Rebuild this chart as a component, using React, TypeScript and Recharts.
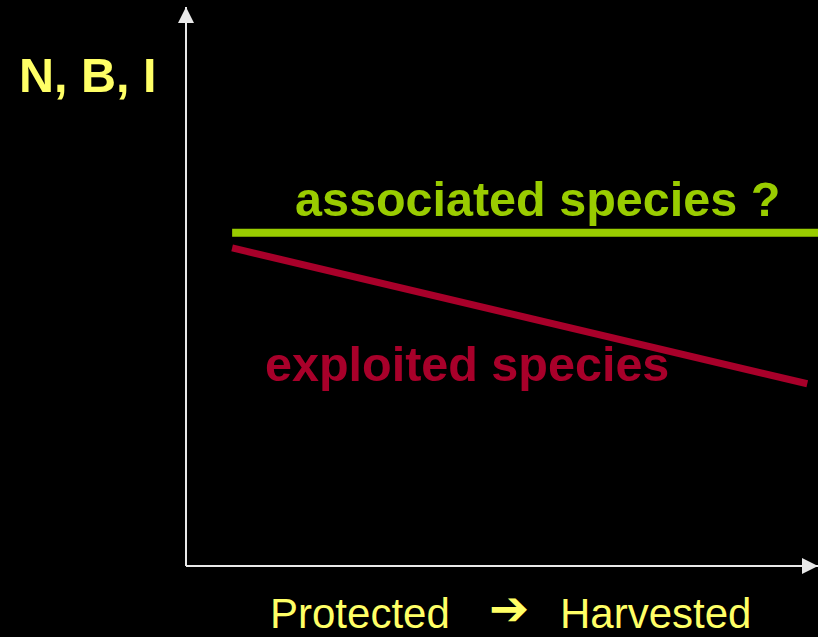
import React from 'react';
import { LineChart, Line, XAxis, YAxis } from 'recharts';

// x: 0 = fully protected, 100 = fully harvested ; y: relative N, B, I
const associatedSpecies = [
  { x: 7.3, y: 59.6 },
  { x: 100, y: 59.6 },
];

const exploitedSpecies = [
  { x: 7.3, y: 56.9 },
  { x: 98.3, y: 32.6 },
];

const xLabels = ['Protected', 'Harvested'];
const yLabel = 'N, B, I';

const GREEN = '#99cc00';
const RED = '#a8002a';
const YELLOW = '#ffff66';
const AXIS = '#e8e8e8';

const App: React.FC = () => {
  return (
    <div style={{ position: 'fixed', left: 0, top: 0, width: 818, height: 637, background: '#000', overflow: 'hidden' }}>
      {/* arrow heads for the axes */}
      <svg width={0} height={0} style={{ position: 'absolute' }}>
        <defs>
          <marker
            id="axisArrow"
            viewBox="0 0 16 16"
            markerWidth={16}
            markerHeight={16}
            markerUnits="userSpaceOnUse"
            refX={16}
            refY={8}
            orient="auto-start-reverse"
          >
            <path d="M0,0 L16,8 L0,16 z" fill={AXIS} />
          </marker>
        </defs>
      </svg>

      <LineChart width={818} height={637} margin={{ top: 7, right: 0, bottom: 41, left: 126 }}>
        <XAxis
          type="number"
          dataKey="x"
          domain={[0, 100]}
          height={30}
          tick={false}
          tickLine={false}
          axisLine={{ stroke: AXIS, strokeWidth: 2, markerEnd: 'url(#axisArrow)' }}
        />
        <YAxis
          type="number"
          dataKey="y"
          domain={[0, 100]}
          width={60}
          tick={false}
          tickLine={false}
          axisLine={{ stroke: AXIS, strokeWidth: 2, markerStart: 'url(#axisArrow)' }}
        />
        <Line
          data={associatedSpecies}
          dataKey="y"
          type="linear"
          stroke={GREEN}
          strokeWidth={8}
          dot={false}
          activeDot={false}
          isAnimationActive={false}
        />
        <Line
          data={exploitedSpecies}
          dataKey="y"
          type="linear"
          stroke={RED}
          strokeWidth={7}
          dot={false}
          activeDot={false}
          isAnimationActive={false}
        />
      </LineChart>

      <svg width={818} height={637} style={{ position: 'absolute', left: 0, top: 0, pointerEvents: 'none' }}>
        <g fontFamily="'Liberation Sans', Arial, sans-serif">
          <text x={19} y={92} fill={YELLOW} fontSize={48.5} fontWeight="bold">{yLabel}</text>
          <text x={295} y={216} fill={GREEN} fontSize={48.5} fontWeight="bold">associated species ?</text>
          <text x={265} y={381} fill={RED} fontSize={48.5} fontWeight="bold">exploited species</text>
          <text x={270} y={628} fill={YELLOW} fontSize={42}>{xLabels[0]}</text>
          <text x={489} y={625} fill={YELLOW} fontSize={48} fontWeight="bold" fontFamily="'DejaVu Sans', sans-serif">➔</text>
          <text x={560} y={628} fill={YELLOW} fontSize={42}>{xLabels[1]}</text>
        </g>
      </svg>
    </div>
  );
};

export default App;
